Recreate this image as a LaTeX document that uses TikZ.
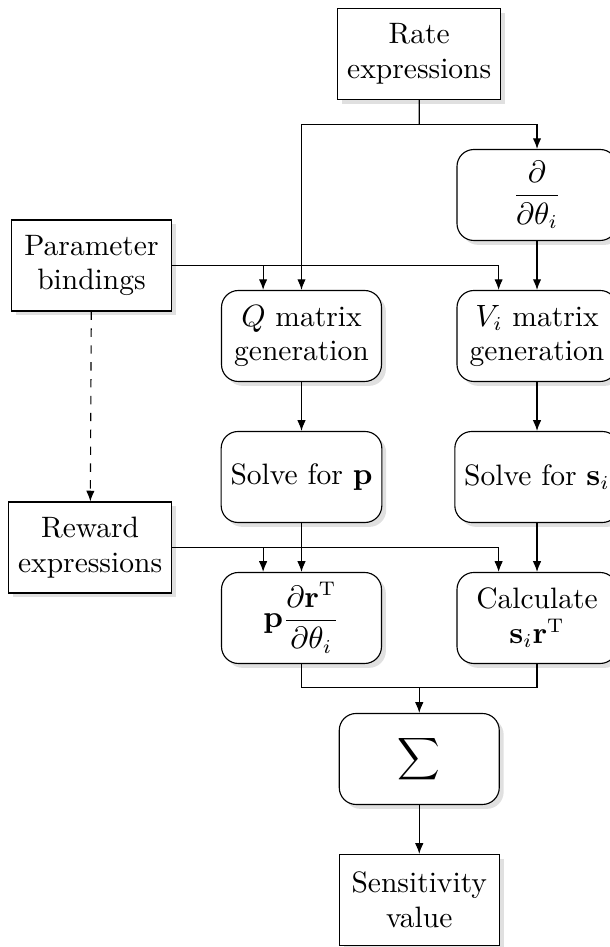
\documentclass[tikz,border=0pt]{standalone}
\usepackage{amsmath,amssymb}
\usepackage{tikz}
\usetikzlibrary{arrows.meta, positioning, calc, shadows}

\begin{document}
\begin{tikzpicture}[
    node distance=0.611cm and 0.93cm,
    block/.style={rectangle, draw, fill=white, minimum width=2cm, minimum height=1.1375cm, align=center,
        font=\fontsize{10.5}{12.3}\selectfont,
        drop shadow={shadow xshift=0.055cm, shadow yshift=-0.055cm, fill=black!12, opacity=1}},
    procblock/.style={block, rounded corners=6pt},
    arr/.style={-{Latex[length=3.8pt, width=3pt]}},
    darr/.style={arr, dashed},
]
\useasboundingbox (-3.769,4.2) rectangle (3.856,-7.638);

% ======== MAIN COLUMNS ========
\node[procblock] (qgen) {$Q$ matrix\\generation};
\node[procblock, right=of qgen] (vgen) {$V_i$ matrix\\generation};
\node[procblock, above=of vgen] (dtheta) {$\dfrac{\partial}{\partial\theta_i}$};
\node[procblock, below=of qgen] (solvep) {Solve for $\mathbf{p}$};
\node[procblock, below=of vgen] (solves) {Solve for $\mathbf{s}_i$};
\node[procblock, below=of solvep] (prterm) {$\mathbf{p}\dfrac{\partial\mathbf{r}^{\mathrm{T}}}{\partial\theta_i}$};
\node[procblock, below=of solves] (calc) {Calculate\\$\mathbf{s}_i\mathbf{r}^{\mathrm{T}}$};

% Inputs
\coordinate (topmid) at ($(qgen.center |- dtheta.north)!0.5!(dtheta.north)$);
\node[block, above=of topmid] (rate) {Rate\\expressions};
\coordinate (parammid) at ($(dtheta.south)!0.5!(vgen.north)$);
\coordinate (parampin) at (qgen.west |- parammid);
\node[block, left=0.611cm of parampin] (param) {Parameter\\bindings};
\coordinate (rewmid) at ($(solvep.south)!0.5!(prterm.north)$);
\coordinate (rewpin) at (qgen.west |- rewmid);
\node[block, left=0.611cm of rewpin] (reward) {Reward\\expressions};

% Output
\coordinate (botmid) at ($(prterm.south)!0.5!(calc.south)$);
\node[procblock, below=of botmid] (sum) {$\displaystyle\sum$};
\node[block, below=of sum] (sens) {Sensitivity\\value};

% ======== CONNECTORS ========
\coordinate (ratejoin) at ($(rate.south)!0.5!(rate.south |- dtheta.north)$);
\draw (rate) -- (ratejoin);
\draw[arr] (ratejoin) -| (qgen);
\draw[arr] (ratejoin) -| (dtheta);
\draw[arr] (param) -| ([xshift=-0.48cm]qgen.north);
\draw[arr] (param) -| ([xshift=-0.48cm]vgen.north);
\draw[arr] (dtheta) -- (vgen);
\draw[arr] (qgen) -- (solvep);
\draw[arr] (vgen) -- (solves);
\draw[darr] (param) -- (reward);
\draw[arr] (reward) -| ([xshift=-0.48cm]prterm.north);
\draw[arr] (reward) -| ([xshift=-0.48cm]calc.north);
\draw[arr] (solvep) -- (prterm);
\draw[arr] (solves) -- (calc);

\coordinate (sumjoin) at ($(sum.north)+(0,0.3125)$);
\draw (prterm) |- (sumjoin) -| (calc);
\draw[arr] (sumjoin) -- (sum);
\draw[arr] (sum) -- (sens);

\end{tikzpicture}
\end{document}
